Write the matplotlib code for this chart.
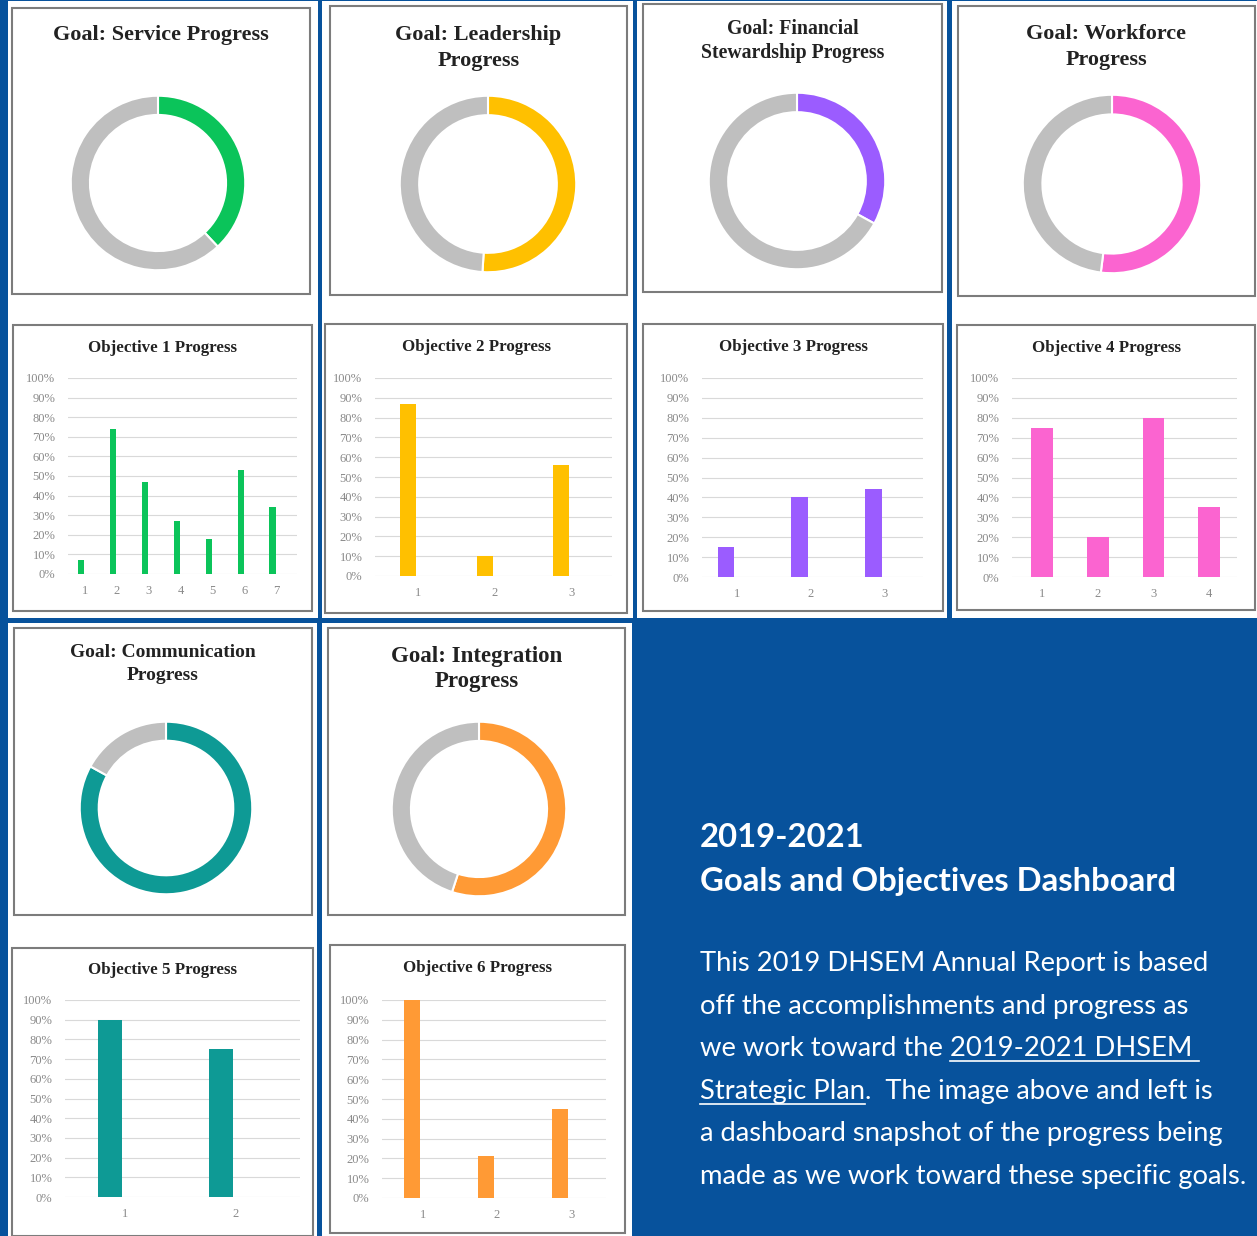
import numpy as np
import matplotlib
matplotlib.use('Agg')
import matplotlib.pyplot as plt
from matplotlib.patches import Rectangle
from matplotlib.transforms import ScaledTranslation

# ---------------- data ----------------
goal_titles = ['Goal: Service Progress', 'Goal: Leadership\nProgress',
               'Goal: Financial\nStewardship Progress', 'Goal: Workforce\nProgress',
               'Goal: Communication\nProgress', 'Goal: Integration\nProgress']
goal_values = [38, 51, 33, 52, 83, 55]  # % done
goal_colors = ['#0bc45a', '#ffc000', '#9b5cff', '#fb64d0', '#0e9a95', '#ff9a35']

obj_titles = ['Objective 1 Progress', 'Objective 2 Progress', 'Objective 3 Progress',
              'Objective 4 Progress', 'Objective 5 Progress', 'Objective 6 Progress']
obj1 = [7, 74, 47, 27, 18, 53, 34]
obj2 = [87, 10, 56]
obj3 = [15, 40, 44]
obj4 = [75, 20, 80, 35]
obj5 = [90, 75]
obj6 = [100, 21, 45]
obj_values = [obj1, obj2, obj3, obj4, obj5, obj6]
pct_ticks = list(range(0, 101, 10))

head_lines = ['2019-2021', 'Goals and Objectives Dashboard']
body_lines = [
    [('This 2019 DHSEM Annual Report is based', False)],
    [('off the accomplishments and progress as', False)],
    [('we work toward the ', False), ('2019-2021 DHSEM ', True)],
    [('Strategic Plan', True), ('.  The image above and left is', False)],
    [('a dashboard snapshot of the progress being', False)],
    [('made as we work toward these specific goals.', False)],
]

# ---------------- layout (pixels, y from top) ----------------
W, H = 1257, 1236
BLUE = '#07529c'
GRAY = '#bfbfbf'
EDGE = '#7c7c7c'

tiles = [(8, 1, 318, 618), (322, 1, 633, 618), (637, 1, 947, 618), (952, 1, 1257, 618),
         (8, 623, 317, 1236), (322, 623, 632, 1236)]
goal_boxes = [(12, 8, 310, 294), (330, 6, 627, 295), (643, 4, 942, 292),
              (958, 6, 1255, 296), (14, 628, 312, 915), (328, 628, 625, 915)]
goal_title_y = [35, 48, 41, 47, 664, 669]
goal_title_size = [16, 16, 14.2, 15.9, 14, 16.5]
goal_title_ls = [1.2, 1.45, 1.3, 1.42, 1.45, 1.28]
donuts = [(158, 183, 89), (488, 184, 90), (797, 181, 90),
          (1112, 184, 91), (166, 808, 88), (479, 809, 89)]

obj_boxes = [(13, 325, 312, 611), (325, 324, 627, 613), (643, 324, 943, 611),
             (957, 325, 1255, 610), (12, 948, 313, 1236), (330, 945, 625, 1233)]
obj_title_y = [348, 347, 347, 348, 970, 968]
plot_areas = [(68, 378, 297, 574), (375, 378, 612, 576), (702, 378, 923, 577),
              (1012, 378, 1237, 577), (65, 1000, 300, 1197), (382, 1000, 606, 1198)]
x_limits = [(0.60, 7.76), (0.57, 3.66), (0.68, 3.67), (0.46, 4.50), (0.60, 2.71), (0.60, 3.62)]
label_shift = [4, 10, 11, 0, 15, 11]  # px: category labels sit right of the bars
bar_width = [0.2, 0.21, 0.22, 0.39, 0.215, 0.22]


def px_axes(x0, y0, x1, y1):
    return fig.add_axes([x0 / W, 1 - y1 / H, (x1 - x0) / W, (y1 - y0) / H])


fig = plt.figure(figsize=(W / 100, H / 100), dpi=100, facecolor=BLUE)
plt.rcParams['font.family'] = ['Liberation Serif', 'DejaVu Serif']

# background canvas in pixel coordinates
bg = fig.add_axes([0, 0, 1, 1])
bg.set_xlim(0, W)
bg.set_ylim(H, 0)
bg.axis('off')
bg.set_facecolor(BLUE)

for x0, y0, x1, y1 in tiles:
    bg.add_patch(Rectangle((x0, y0), x1 - x0, y1 - y0, facecolor='white', edgecolor='none'))
for x0, y0, x1, y1 in goal_boxes + obj_boxes:
    bg.add_patch(Rectangle((x0, y0), x1 - x0, y1 - y0, facecolor='white',
                           edgecolor=EDGE, linewidth=1.5))

# goal donuts
for i, (title, val, col) in enumerate(zip(goal_titles, goal_values, goal_colors)):
    x0, y0, x1, y1 = goal_boxes[i]
    bg.text((x0 + x1) / 2, goal_title_y[i], title, ha='center', va='center',
            fontsize=goal_title_size[i], fontweight='bold', color='#222222',
            linespacing=goal_title_ls[i])
    cx, cy, r = donuts[i]
    ax = px_axes(cx - r, cy - r, cx + r, cy + r)
    ax.pie([val, 100 - val], colors=[col, GRAY], startangle=90, counterclock=False,
           wedgeprops=dict(width=0.22, edgecolor='white', linewidth=1.5))
    ax.set_xlim(-1.02, 1.02)
    ax.set_ylim(-1.02, 1.02)

# objective bar charts
for i, (title, vals) in enumerate(zip(obj_titles, obj_values)):
    x0, y0, x1, y1 = obj_boxes[i]
    bg.text((x0 + x1) / 2, obj_title_y[i], title, ha='center', va='center',
            fontsize=12.2, fontweight='bold', color='#222222')
    ax = px_axes(*plot_areas[i])
    cats = np.arange(1, len(vals) + 1)
    ax.bar(cats, vals, width=bar_width[i], color=goal_colors[i], zorder=3)
    ax.set_xlim(*x_limits[i])
    ax.set_ylim(0, 100)
    ax.set_yticks(pct_ticks)
    ax.set_yticklabels([f'{t}%' for t in pct_ticks])
    ax.set_xticks(cats)
    ax.set_xticklabels([str(c) for c in cats])
    ax.tick_params(length=0, labelsize=9, labelcolor='#8a8a8a')
    ax.tick_params(axis='x', pad=8)
    ax.tick_params(axis='y', pad=9)
    shift = ScaledTranslation(label_shift[i] / 100, 0, fig.dpi_scale_trans)
    for lbl in ax.get_xticklabels():
        lbl.set_transform(lbl.get_transform() + shift)
    ax.grid(axis='y', color='#d9d9d9', linewidth=0.8, zorder=0)
    for s in ax.spines.values():
        s.set_visible(False)
    ax.set_facecolor('none')

# text block on the blue area
sans = ['Lato', 'DejaVu Sans']
bg.text(700, 847, head_lines[0], color='white', fontsize=23.7, fontweight='bold',
        family=sans, va='baseline')
bg.text(700, 891, head_lines[1], color='white', fontsize=23.7, fontweight='bold',
        family=sans, va='baseline')

fig.canvas.draw()
renderer = fig.canvas.get_renderer()

# size the body so the longest line spans about 550 px, as in the reference
probe = bg.text(0, 0, body_lines[5][0][0], fontsize=20, family=sans)
body_size = 20 * 548 / probe.get_window_extent(renderer).width
probe.remove()

base_y = 971
for k, parts in enumerate(body_lines):
    y = base_y + k * 42.6
    x = 700
    for txt, under in parts:
        t = bg.text(x, y, txt, color='white', fontsize=body_size,
                    family=sans, va='baseline')
        bb = t.get_window_extent(renderer)
        x_end = x + bb.width
        if under:
            bg.plot([x, x_end], [y + 5, y + 5], color='white', linewidth=1.2)
        x = x_end

fig.savefig('out.png', dpi=100, facecolor=BLUE)
